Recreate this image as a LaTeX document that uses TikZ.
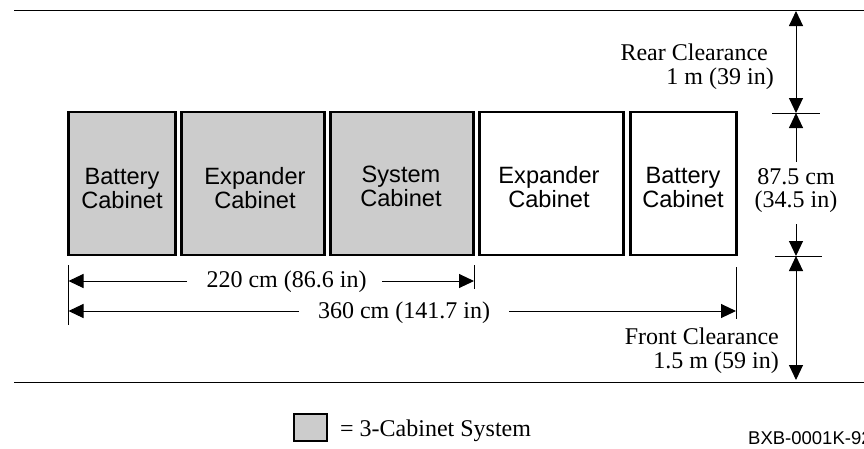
\documentclass[tikz,border=0pt]{standalone}
\usepackage{fontspec}
\setmainfont{Liberation Serif}
\setsansfont{Liberation Sans}
\usetikzlibrary{arrows.meta}
\tikzset{
  x=1pt,y=-1pt,
  cabinet/.style={draw=black,line width=2.6pt,inner sep=0pt},
  shaded/.style={fill=black!20},
  cablabel/.style={font=\sffamily\fontsize{23.6}{24}\selectfont,align=center,inner sep=0pt,text=black},
  dimlabel/.style={font=\rmfamily\fontsize{24}{24}\selectfont,inner sep=0pt,text=black},
  thin rule/.style={draw=black,line width=1pt},
  dimarrow/.style={thin rule,-{Triangle[length=15pt,width=14pt]},shorten >=0pt},
}
\begin{document}
\begin{tikzpicture}
\useasboundingbox (0,0) rectangle (864,448);
\clip (0,0) rectangle (864,448);
% rules
\coordinate (topL) at (14,10); \coordinate (topR) at (864,10);
\coordinate (botL) at (14,382); \coordinate (botR) at (864,382);
\draw[thin rule] (topL) -- (topR);
\draw[thin rule] (botL) -- (botR);
% cabinets
\node[cabinet,shaded,minimum width=107pt,minimum height=143pt] (c1) at (122,183.5) {};
\node[cabinet,shaded,minimum width=143pt,minimum height=143pt] (c2) at (253,183.5) {};
\node[cabinet,shaded,minimum width=143pt,minimum height=143pt] (c3) at (402,183.5) {};
\node[cabinet,minimum width=144pt,minimum height=143pt] (c4) at (551.5,183.5) {};
\node[cabinet,minimum width=106pt,minimum height=143pt] (c5) at (683.5,183.5) {};
\node[cablabel] (t1) at (122,188) {Battery\\Cabinet};
\node[cablabel] (t2) at (255,188) {Expander\\Cabinet};
\node[cablabel] (t3) at (401,186) {System\\Cabinet};
\node[cablabel] (t4) at (549,187) {Expander\\Cabinet};
\node[cablabel] (t5) at (683,187.5) {Battery\\Cabinet};
% width dimensions
\coordinate (wl1) at (68.5,265); \coordinate (wl2) at (68.5,325);
\coordinate (wm1) at (474,265); \coordinate (wm2) at (474,289);
\coordinate (wr1) at (736,267); \coordinate (wr2) at (736,319);
\draw[thin rule] (wl1) -- (wl2);
\draw[thin rule] (wm1) -- (wm2);
\draw[thin rule] (wr1) -- (wr2);
\node[dimlabel,anchor=base] (d220) at (286.5,287) {220 cm (86.6 in)};
\node[dimlabel,anchor=base] (d360) at (404,318) {360 cm (141.7 in)};
\coordinate (a1) at (68.5,281); \coordinate (a2) at (474,281);
\coordinate (b1) at (68.5,311); \coordinate (b2) at (736,311);
\coordinate (a1s) at (187,281); \coordinate (a2s) at (382,281);
\coordinate (b1s) at (299,311); \coordinate (b2s) at (509,311);
\draw[dimarrow] (a1s) -- (a1);
\draw[dimarrow] (a2s) -- (a2);
\draw[dimarrow] (b1s) -- (b1);
\draw[dimarrow] (b2s) -- (b2);
% depth dimensions
\coordinate (ut1) at (772,113); \coordinate (ut2) at (820,113);
\coordinate (lt1) at (775,256); \coordinate (lt2) at (822,256);
\draw[thin rule] (ut1) -- (ut2);
\draw[thin rule] (lt1) -- (lt2);
\coordinate (rt) at (796,11); \coordinate (ru) at (796,113);
\coordinate (rl) at (796,256); \coordinate (rb) at (796,380);
\coordinate (m1) at (796,162); \coordinate (m2) at (796,224);
\draw[dimarrow,{Triangle[length=15pt,width=14pt]}-{Triangle[length=15pt,width=14pt]}] (rt) -- (ru);
\draw[dimarrow] (m1) -- (ru);
\draw[dimarrow] (m2) -- (rl);
\draw[dimarrow,{Triangle[length=15pt,width=14pt]}-{Triangle[length=15pt,width=14pt]}] (rl) -- (rb);
\node[dimlabel,anchor=base east] (rc1) at (768,60) {Rear Clearance};
\node[dimlabel,anchor=base east] (rc2) at (774,84) {1 m (39 in)};
\node[dimlabel,anchor=base] (dp1) at (796,184) {87.5 cm};
\node[dimlabel,anchor=base] (dp2) at (796,207.5) {(34.5 in)};
\node[dimlabel,anchor=base east] (fc1) at (779,344) {Front Clearance};
\node[dimlabel,anchor=base east] (fc2) at (779,368) {1.5 m (59 in)};
% legend
\node[cabinet,shaded,line width=2.4pt,minimum width=33pt,minimum height=27pt] (key) at (310.5,427.5) {};
\node[dimlabel,anchor=base west] (keyt) at (340,436) {= 3-Cabinet System};
\node[font=\sffamily\fontsize{18.5}{20}\selectfont,inner sep=0pt,anchor=base west] (code) at (748,444.5) {BXB-0001K-92};
\end{tikzpicture}
\end{document}
